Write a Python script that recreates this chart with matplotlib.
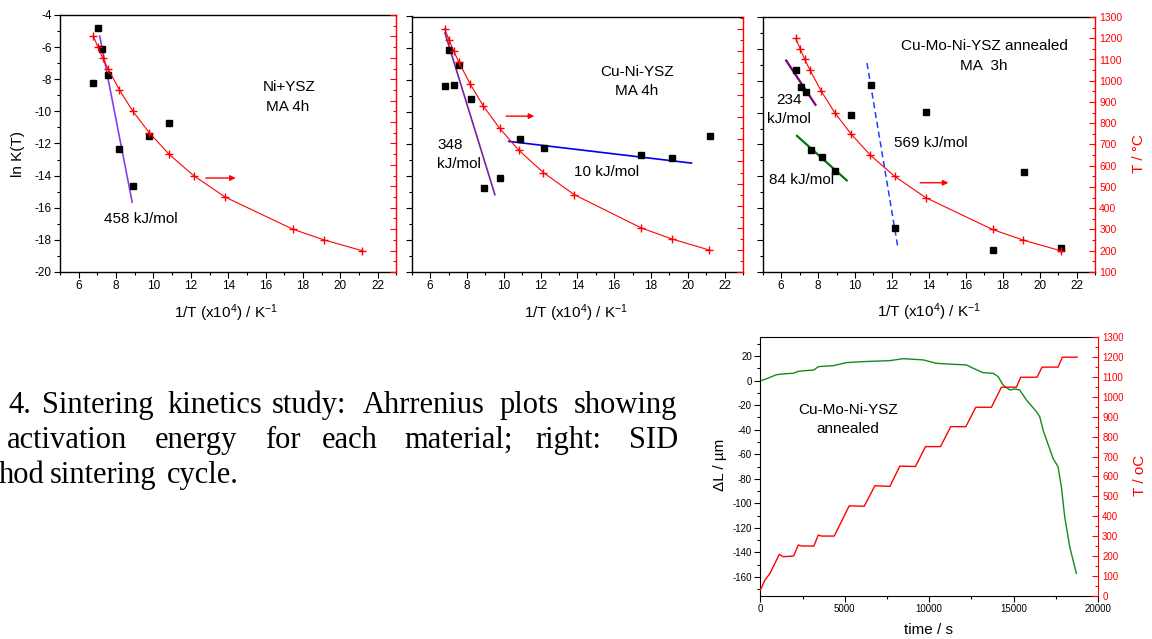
import matplotlib
matplotlib.use("Agg")
import matplotlib.pyplot as plt
from matplotlib.ticker import MultipleLocator

plt.rcParams['font.family'] = ['Liberation Sans', 'DejaVu Sans']
plt.rcParams['mathtext.default'] = 'regular'
plt.rcParams['axes.unicode_minus'] = False

W, H = 1152, 639

# ---------------- data ----------------
temp_C = [1200, 1150, 1100, 1050, 950, 850, 750, 650, 550, 450, 300, 250, 200]
inv_T = [6.79, 7.03, 7.28, 7.56, 8.18, 8.90, 9.78, 10.83, 12.15, 13.83, 17.45, 19.12, 21.14]

p1_x = [7.04, 7.27, 7.57, 6.79, 8.16, 9.77, 10.84, 8.91]
p1_y = [-4.81, -6.09, -7.73, -8.25, -12.33, -11.52, -10.72, -14.63]

p2_x = [7.05, 7.59, 6.83, 7.32, 8.20, 8.92, 9.79, 10.87, 12.17, 17.47, 19.15, 21.19]
p2_y = [-6.09, -7.05, -8.36, -8.32, -9.15, -14.74, -14.10, -11.66, -12.24, -12.68, -12.84, -11.48]

p3_x = [6.81, 7.05, 7.32, 7.60, 8.20, 8.94, 9.80, 10.85, 12.18, 13.86, 17.48, 19.14, 21.14]
p3_y = [-7.31, -8.40, -8.70, -12.32, -12.76, -13.65, -10.14, -8.26, -17.27, -9.96, -18.59, -13.73, -18.51]

# fitted lines (x pair, y pair)
fit_p1 = ([7.125, 8.86], [-5.31, -15.65])
fit_p2a = ([6.81, 9.52], [-5.04, -15.16])
fit_p2b = ([10.27, 20.2], [-11.82, -13.18])
fit_p3a = ([6.27, 7.86], [-6.73, -9.51])
fit_p3b = ([6.86, 9.55], [-11.46, -14.25])
fit_p3c = ([10.65, 12.31], [-6.89, -18.38])

# SID sintering cycle
sid_time = [0, 276, 572, 1124, 1361, 1972, 2250, 2446, 3175, 3432, 3630, 4379,
            5266, 6154, 6785, 7673, 8264, 9191, 9783, 10671, 11282, 12170,
            12761, 13688, 14280, 15168, 15424, 16391, 16686, 17633, 17890, 18757]
sid_temp = [28, 79, 112, 208, 196, 200, 255, 250, 250, 305, 300, 300,
            452, 450, 553, 550, 652, 650, 750, 750, 851, 850,
            948, 948, 1049, 1049, 1099, 1099, 1150, 1150, 1200, 1200]
dl_time = [0, 375, 966, 1558, 1953, 2249, 2643, 3175, 3432, 4320, 5108, 6095,
           7673, 8462, 9645, 10434, 11420, 12209, 12604, 13195, 13787, 14083,
           14379, 14773, 15069, 15365, 15759, 16351, 16548, 16746, 17337,
           17633, 17830, 18028, 18323, 18718]
dl_val = [-0.3, 1.5, 4.8, 5.6, 5.9, 7.5, 8.0, 8.6, 11.3, 12.1, 14.6, 15.4,
          16.2, 17.8, 16.8, 14.0, 13.2, 12.7, 10.0, 6.4, 5.9, 3.2,
          -3.6, -7.7, -6.9, -7.7, -15.8, -25.3, -29.4, -40.3, -63.4,
          -70.2, -86.4, -110.9, -135.3, -157.0]

# caption words (as on the page, justified)
cap1_words = ['4.', 'Sintering', 'kinetics', 'study:', 'Ahrrenius', 'plots', 'showing']
cap2_words = ['activation', 'energy', 'for', 'each', 'material;', 'right:', 'SID']
cap3_words = ['hod', 'sintering', 'cycle.']

# ---------------- figure ----------------
fig = plt.figure(figsize=(W / 100, H / 100), dpi=100)


def rect(l, t, r, b):
    return [l / W, 1 - b / H, (r - l) / W, (b - t) / H]


def px(x, y):
    return x / W, 1 - y / H


RED = '#ff0000'
TICK_FS = 8.5
LAB_FS = 11


def setup_top(axr, left_labels, right_labels, ylim2):
    ax = fig.add_axes(axr)
    ax.set_xlim(5, 23)
    ax.set_ylim(-20, -4)
    ax.xaxis.set_major_locator(MultipleLocator(2))
    ax.xaxis.set_minor_locator(MultipleLocator(1))
    ax.yaxis.set_major_locator(MultipleLocator(2))
    ax.yaxis.set_minor_locator(MultipleLocator(1))
    ax.tick_params(which='major', direction='out', length=4, width=0.8, labelsize=TICK_FS,
                   top=False, right=False, labelleft=left_labels, pad=2)
    ax.tick_params(which='minor', direction='out', length=2.2, width=0.8, top=False, right=False)
    ax.spines['right'].set_visible(False)
    for s in ('left', 'bottom', 'top'):
        ax.spines[s].set_linewidth(1.0)
    ax2 = ax.twinx()
    ax2.set_ylim(*ylim2)
    ax2.yaxis.set_major_locator(MultipleLocator(100))
    ax2.yaxis.set_minor_locator(MultipleLocator(50))
    ax2.tick_params(axis='y', which='major', direction='in', length=4, width=0.8,
                    colors=RED, labelsize=7.5, labelright=right_labels, pad=3)
    ax2.tick_params(axis='y', which='minor', direction='in', length=2.2, width=0.8, colors=RED)
    for s in ('left', 'top', 'bottom'):
        ax2.spines[s].set_visible(False)
    ax2.spines['right'].set_color(RED)
    ax2.spines['right'].set_linewidth(1.0)
    return ax, ax2


def red_curve(ax2):
    ax2.plot(inv_T, temp_C, color=RED, lw=0.8, marker='+', ms=6.2, mew=1.0)


def arrow(ax, x0, x1, y):
    ax.annotate('', xy=(x1, y), xytext=(x0, y),
                arrowprops=dict(arrowstyle='-|>', color=RED, lw=1.0,
                                mutation_scale=8, shrinkA=0, shrinkB=0))


SQ = dict(ls='none', marker='s', ms=3.8, color='black', zorder=5)

# Panel 1
ax1, ax1r = setup_top(rect(60, 15, 396.5, 272), True, False, (100, 1300))
ax1.plot(p1_x, p1_y, **SQ)
ax1.plot(*fit_p1, color='#8a3cf0', lw=1.2)
red_curve(ax1r)
arrow(ax1, 12.8, 14.4, -14.15)
ax1.text(17.25, -8.5, 'Ni+YSZ', ha='center', va='center', fontsize=LAB_FS)
ax1.text(17.15, -9.74, 'MA 4h', ha='center', va='center', fontsize=LAB_FS)
ax1.text(7.36, -16.68, '458 kJ/mol', ha='left', va='center', fontsize=LAB_FS)

# Panel 2
ax2_, ax2r = setup_top(rect(411.7, 16.5, 743, 272), False, False, (100, 1256))
ax2_.plot(p2_x, p2_y, **SQ)
ax2_.plot(*fit_p2a, color='#7b1fa2', lw=1.2)
ax2_.plot(*fit_p2b, color='#0000ee', lw=1.2)
red_curve(ax2r)
arrow(ax2_, 10.13, 11.66, -10.24)
ax2_.text(17.22, -7.5, 'Cu-Ni-YSZ', ha='center', va='center', fontsize=LAB_FS)
ax2_.text(17.22, -8.69, 'MA 4h', ha='center', va='center', fontsize=LAB_FS)
ax2_.text(6.4, -12.03, '348', ha='left', va='center', fontsize=LAB_FS)
ax2_.text(6.4, -13.22, 'kJ/mol', ha='left', va='center', fontsize=LAB_FS)
ax2_.text(13.83, -13.76, '10 kJ/mol', ha='left', va='center', fontsize=LAB_FS)

# Panel 3
ax3, ax3r = setup_top(rect(762.7, 17, 1095, 272), False, True, (100, 1300))
ax3.plot(p3_x, p3_y, **SQ)
ax3.plot(*fit_p3a, color='#800080', lw=1.6)
ax3.plot(*fit_p3b, color='#007a00', lw=1.6)
ax3.plot(*fit_p3c, color='#1f3fff', lw=1.1, ls=(0, (4, 2.5)))
red_curve(ax3r)
arrow(ax3, 13.53, 15.06, -14.4)
ax3.text(16.99, -5.85, 'Cu-Mo-Ni-YSZ annealed', ha='center', va='center', fontsize=LAB_FS)
ax3.text(16.99, -7.1, 'MA  3h', ha='center', va='center', fontsize=LAB_FS)
ax3.text(6.41, -9.2, '234', ha='center', va='center', fontsize=LAB_FS)
ax3.text(6.41, -10.4, 'kJ/mol', ha='center', va='center', fontsize=LAB_FS)
ax3.text(5.32, -14.25, '84 kJ/mol', ha='left', va='center', fontsize=LAB_FS)
ax3.text(12.09, -11.93, '569 kJ/mol', ha='left', va='center', fontsize=LAB_FS)

# axis labels (top row)
xl = '1/T (x10$^{4}$) / K$^{-1}$'
fig.text(*px(226, 313), xl, ha='center', va='center', fontsize=LAB_FS)
fig.text(*px(576, 313), xl, ha='center', va='center', fontsize=LAB_FS)
fig.text(*px(929, 312), xl, ha='center', va='center', fontsize=LAB_FS)
fig.text(*px(18, 154), 'ln K(T)', ha='center', va='center', rotation=90, fontsize=LAB_FS)
fig.text(*px(1139, 154), 'T / °C', ha='center', va='center', rotation=90,
         fontsize=LAB_FS, color=RED)

# Bottom panel
axb = fig.add_axes(rect(760.3, 337.3, 1098, 595.7))
axb.set_xlim(0, 20000)
axb.set_ylim(-175.2, 35.2)
axb.xaxis.set_major_locator(MultipleLocator(5000))
axb.xaxis.set_minor_locator(MultipleLocator(2500))
axb.yaxis.set_major_locator(MultipleLocator(20))
axb.yaxis.set_minor_locator(MultipleLocator(10))
axb.tick_params(which='major', direction='out', length=4, width=0.8, labelsize=7,
                top=False, right=False, pad=2)
axb.tick_params(which='minor', direction='out', length=2.2, width=0.8, top=False, right=False)
axb.spines['right'].set_visible(False)
axb.plot(dl_time, dl_val, color='#178a17', lw=1.0)
axb.text(5207, -24, 'Cu-Mo-Ni-YSZ', ha='center', va='center', fontsize=LAB_FS)
axb.text(5207, -39.2, 'annealed', ha='center', va='center', fontsize=LAB_FS)

axbr = axb.twinx()
axbr.set_ylim(0, 1300)
axbr.yaxis.set_major_locator(MultipleLocator(100))
axbr.yaxis.set_minor_locator(MultipleLocator(50))
axbr.tick_params(axis='y', which='major', direction='in', length=4, width=0.8,
                 colors=RED, labelsize=7, pad=3)
axbr.tick_params(axis='y', which='minor', direction='in', length=2.2, width=0.8, colors=RED)
for s in ('left', 'top', 'bottom'):
    axbr.spines[s].set_visible(False)
axbr.spines['right'].set_color(RED)
axbr.plot(sid_time, sid_temp, color=RED, lw=1.0)

fig.text(*px(929, 630.5), 'time / s', ha='center', va='center', fontsize=LAB_FS)
fig.text(*px(720, 465), 'ΔL / µm', ha='center', va='center', rotation=90, fontsize=LAB_FS)
fig.text(*px(1140.5, 475.5), 'T / oC', ha='center', va='center', rotation=90,
         fontsize=LAB_FS, color=RED)

# Caption (partial, as on the source page; justified word placement)
CAP = dict(family=['Liberation Serif', 'DejaVu Serif'], fontsize=22, va='baseline', ha='left')
cap_lines = [
    (cap1_words, [8, 42, 167, 272, 363, 500, 574], 413),
    (cap2_words, [7, 155, 265, 322, 404, 535, 629], 448),
    (cap3_words, [-1, 50, 167], 483),
]
for words, xs, yb in cap_lines:
    for w_, x_ in zip(words, xs):
        fig.text(*px(x_, yb), w_, **CAP)

fig.savefig('out.png', dpi=100)
